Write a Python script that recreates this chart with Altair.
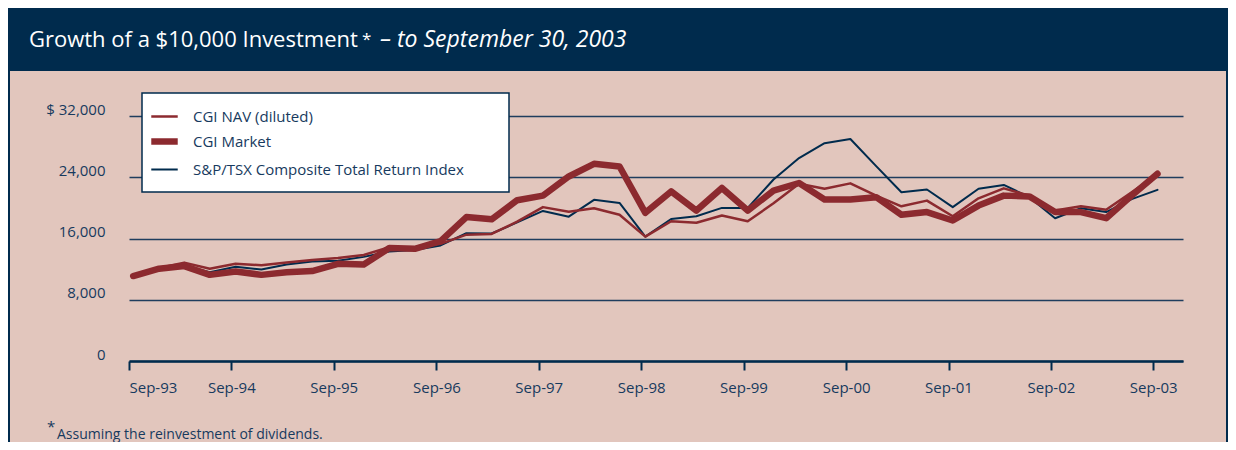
import altair as alt
import pandas as pd

series_names = ["CGI NAV (diluted)", "CGI Market", "S&P/TSX Composite Total Return Index"]

quarter_ends = []
for yr in range(1993, 2004):
    for md in ["03-31", "06-30", "09-30", "12-31"]:
        d = f"{yr}-{md}"
        if "1993-09-30" <= d <= "2003-09-30":
            quarter_ends.append(d)

nav = [11100, 12150, 12850, 12050, 12700, 12500, 12850, 13200, 13450, 13850,
       14850, 14850, 15300, 16500, 16600, 18200, 20100, 19500, 19950, 19100,
       16250, 18250, 18050, 19000, 18250, 20600, 23150, 22500, 23200, 21600,
       20200, 20950, 18900, 21250, 22550, 21600, 19650, 20200, 19750, 22050,
       24450]
market = [11100, 12050, 12400, 11250, 11700, 11250, 11600, 11750, 12700, 12600,
          14750, 14650, 15650, 18800, 18500, 21000, 21600, 24100, 25750, 25400,
          19350, 22150, 19650, 22600, 19650, 22250, 23250, 21100, 21100, 21400,
          19100, 19450, 18350, 20300, 21600, 21500, 19450, 19450, 18650, 21600,
          24450]
tsx = [11100, 12050, 12450, 11600, 12300, 11950, 12600, 13000, 13100, 13600,
       14300, 14500, 15100, 16700, 16650, 18100, 19600, 18850, 21050, 20650,
       16250, 18550, 18900, 20000, 20000, 23700, 26500, 28450, 29000, 25450,
       22050, 22400, 20100, 22500, 23000, 21400, 18650, 19950, 19450, 21150,
       22350]

y_ticks = [0, 8000, 16000, 24000, 32000]
x_tick_years = list(range(1993, 2004))

title_main = "Growth of a $10,000 Investment"
title_italic = "– to September 30, 2003"
footnote = "Assuming the reinvestment of dividends."

NAVY = "#002b4d"
TEXT = "#173a5e"
RED = "#8c2a2f"
PINK = "#e2c6bd"
FONT = "Open Sans"

rows = []
for name, vals in zip(series_names, [nav, market, tsx]):
    for d, v in zip(quarter_ends, vals):
        rows.append({"date": d, "value": v, "series": name})
df = pd.DataFrame(rows)

W, H = 1054, 245
PL, PT, PR, PB = 121, 108, 45, 81

x_enc = alt.X(
    "date:T",
    scale=alt.Scale(domain=[alt.DateTime(year=1993, month=9, date=15),
                            alt.DateTime(year=2003, month=12, date=30)]),
    axis=alt.Axis(
        values=[alt.DateTime(year=y, month=9, date=15) for y in x_tick_years],
        format="%b-%y", title=None, grid=False, domain=True, domainColor=NAVY,
        domainWidth=2.5, ticks=True, tickSize=9, tickWidth=2, tickColor=NAVY,
        labelPadding=10, labelFont=FONT, labelFontSize=15, labelColor=TEXT,
    ),
)
y_enc = alt.Y(
    "value:Q",
    scale=alt.Scale(domain=[0, 32000], nice=False),
    axis=alt.Axis(
        values=y_ticks, title=None, grid=True, gridColor="#1f3d5e", gridWidth=1.3,
        domain=False, ticks=False, labelPadding=24, labelBaseline="alphabetic",
        labelOffset=-2,
        labelFont=FONT, labelFontSize=15, labelColor=TEXT,
        labelExpr="datum.value == 32000 ? '$ 32,000' : format(datum.value, ',')",
    ),
)
leg = alt.Legend(title=None, orient="none", legendX=19, legendY=-14,
                 symbolType="stroke", symbolSize=700, labelFont=FONT,
                 labelFontSize=15, labelColor=TEXT, labelOffset=12,
                 rowPadding=0, padding=0, labelLimit=400)
color_enc = alt.Color("series:N", scale=alt.Scale(domain=series_names, range=[RED, RED, NAVY]), legend=leg)
width_enc = alt.StrokeWidth("series:N", scale=alt.Scale(type="ordinal", domain=series_names, range=[2.5, 6.5, 2]), legend=leg)

one = pd.DataFrame({"k": [0]})

band = alt.Chart(one).mark_rect(color=NAVY).encode(
    x=alt.value(-PL), x2=alt.value(W + PR), y=alt.value(-PT), y2=alt.value(-45))
borders = alt.Chart(one).mark_rule(color=NAVY, strokeWidth=2).encode(
    x=alt.value(-PL + 1), y=alt.value(-45), y2=alt.value(H + PB))
borders_r = alt.Chart(one).mark_rule(color=NAVY, strokeWidth=2).encode(
    x=alt.value(W + PR - 1), y=alt.value(-45), y2=alt.value(H + PB))
legend_box = alt.Chart(one).mark_rect(fill="white", stroke=NAVY, strokeWidth=1.5).encode(
    x=alt.value(13), x2=alt.value(380), y=alt.value(-23), y2=alt.value(76))

t1 = alt.Chart(one).mark_text(text=title_main, font=FONT, fontSize=22, color="white",
                              align="left", baseline="alphabetic").encode(
    x=alt.value(-100), y=alt.value(-69))
t2 = alt.Chart(one).mark_text(text="*", font=FONT, fontSize=17, color="white",
                              align="left", baseline="alphabetic").encode(
    x=alt.value(233), y=alt.value(-71))
t3 = alt.Chart(one).mark_text(text=title_italic, font=FONT, fontSize=23, fontStyle="italic",
                              color="white", align="left", baseline="alphabetic").encode(
    x=alt.value(251), y=alt.value(-69))
f1 = alt.Chart(one).mark_text(text="*", font=FONT, fontSize=15, color=TEXT,
                              align="left", baseline="alphabetic").encode(
    x=alt.value(-82), y=alt.value(316))
f2 = alt.Chart(one).mark_text(text=footnote, font=FONT, fontSize=14, color=TEXT,
                              align="left", baseline="alphabetic").encode(
    x=alt.value(-72), y=alt.value(323))

def line_layer(name):
    return alt.Chart(df).transform_filter(alt.datum.series == name).mark_line(
        strokeJoin="round", strokeCap="round").encode(
        x=x_enc, y=y_enc, color=color_enc, strokeWidth=width_enc)

chart = alt.layer(
    band, borders, borders_r, legend_box,
    line_layer(series_names[2]), line_layer(series_names[1]), line_layer(series_names[0]),
    t1, t2, t3, f1, f2,
).properties(
    width=W, height=H,
    autosize=alt.AutoSizeParams(type="none"),
    padding={"left": PL, "top": PT, "right": PR, "bottom": PB},
    background=PINK,
).configure_view(stroke=None)

chart.save("out.html", embed_options={"renderer": "svg", "actions": False})
